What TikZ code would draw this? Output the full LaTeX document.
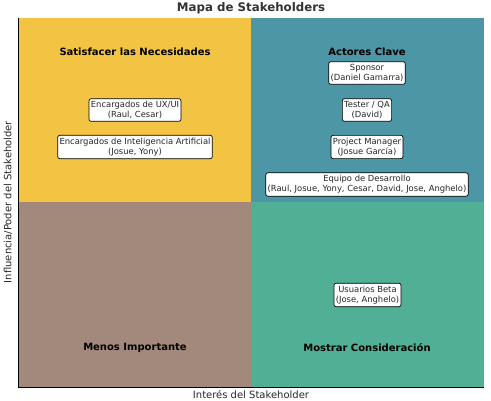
\documentclass[tikz,border=0pt]{standalone}
\usepackage{fontspec}
\setmainfont{DejaVu Sans}
\definecolor{quadyellow}{RGB}{243,195,67}
\definecolor{quadteal}{RGB}{76,150,165}
\definecolor{quadbrown}{RGB}{163,136,124}
\definecolor{quadgreen}{RGB}{81,175,149}
\begin{document}
\begin{tikzpicture}[x=1pt, y=-1pt, every node/.style={align=center},
  holder/.style={draw, fill=white, rounded corners=2pt, line width=0.7pt, inner xsep=1.8pt, inner ysep=2.6pt, text=black!85, font=\fontsize{8.4}{10}\selectfont},
  quadlabel/.style={font=\fontsize{10}{12}\selectfont\bfseries}]
  \useasboundingbox (0,0) rectangle (491,401);

  % Quadrants
  \fill[quadyellow] (18,18) rectangle (251,202);
  \fill[quadteal] (251,18) rectangle (484,202);
  \fill[quadbrown] (18,202) rectangle (251,387);
  \fill[quadgreen] (251,202) rectangle (484,387);

  % Axes
  \draw[line width=0.8pt] (18,18) -- (18,387) -- (484,387);
  \node[font=\fontsize{11.8}{14}\selectfont\bfseries, text=black!80] (title) at (251,8.5) {Mapa de Stakeholders};
  \node[font=\fontsize{10}{12}\selectfont, text=black!85] (xlabel) at (251,395) {Interés del Stakeholder};
  \node[font=\fontsize{10}{12}\selectfont, text=black!85, rotate=90] (ylabel) at (8,202) {Influencia/Poder del Stakeholder};

  % Quadrant titles
  \node[quadlabel] (satisfy) at (135,51.5) {Satisfacer las Necesidades};
  \node[quadlabel] (key) at (367,51.5) {Actores Clave};
  \node[quadlabel] (minor) at (135,347.5) {Menos Importante};
  \node[quadlabel] (consider) at (367,347.5) {Mostrar Consideración};

  % Stakeholders
  \node[holder] (uxui) at (135,110) {Encargados de UX/UI\\(Raul, Cesar)};
  \node[holder] (ia) at (135,147) {Encargados de Inteligencia Artificial\\(Josue, Yony)};
  \node[holder] (sponsor) at (367,73) {Sponsor\\(Daniel Gamarra)};
  \node[holder] (tester) at (367,110) {Tester / QA\\(David)};
  \node[holder] (pm) at (367,147) {Project Manager\\(Josue García)};
  \node[holder] (devteam) at (367,184.5) {Equipo de Desarrollo\\(Raul, Josue, Yony, Cesar, David, Jose, Anghelo)};
  \node[holder] (beta) at (367.5,295) {Usuarios Beta\\(Jose, Anghelo)};
\end{tikzpicture}
\end{document}
